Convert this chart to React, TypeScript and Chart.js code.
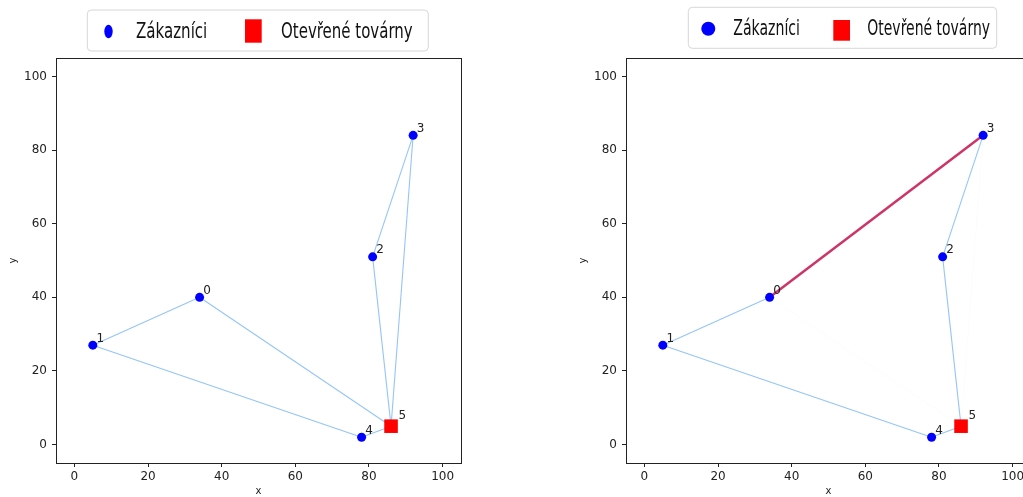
import React, { useEffect, useRef } from 'react';
import { Chart, registerables } from 'chart.js';

Chart.register(...registerables);

// ---- data ----
const customerIds = [0, 1, 2, 3, 4];
const customerX = [34, 5, 81, 92, 78];
const customerY = [40, 27, 51, 84, 2];
const factoryIds = [5];
const factoryX = [86];
const factoryY = [5];
const axisTicks = [0, 20, 40, 60, 80, 100];
const axisMin = -5;
const axisMax = 105;
const edgesLeft = [[0, 1], [0, 5], [1, 4], [4, 5], [5, 2], [2, 3], [3, 5]];
const edgesRight = [[0, 1], [1, 4], [4, 5], [5, 2], [2, 3]];
const highlightRight = [[0, 3]];
const fadedRight = [[3, 5], [0, 5]];
const legendLabels = ['Zákazníci', 'Otevřené továrny'];
const axisTitles = ['x', 'y'];

const allIds = [...customerIds, ...factoryIds];
const allX = [...customerX, ...factoryX];
const allY = [...customerY, ...factoryY];
const node = (id: number) => {
  const i = allIds.indexOf(id);
  return { x: allX[i], y: allY[i] };
};

type LegendLayout = {
  box: { x: number; y: number; w: number; h: number };
  circle: { cx: number; cy: number; rx: number; ry: number };
  text1: { x: number; base: number; w: number };
  square: { x: number; y: number; w: number; h: number };
  text2: { x: number; base: number; w: number };
  fontSize: number;
};

const leftLegend: LegendLayout = {
  box: { x: 87.3, y: 10, w: 341, h: 41 },
  circle: { cx: 108.5, cy: 31.5, rx: 4.2, ry: 6.7 },
  text1: { x: 136, base: 37.5, w: 71.3 },
  square: { x: 245, y: 19.3, w: 16.7, h: 23.4 },
  text2: { x: 281, base: 37.5, w: 131.7 },
  fontSize: 21,
};

const rightLegend: LegendLayout = {
  box: { x: 118.3, y: 7.3, w: 308.4, h: 41 },
  circle: { cx: 138.3, cy: 28.7, rx: 7, ry: 7 },
  text1: { x: 163.3, base: 35, w: 66.7 },
  square: { x: 263.3, y: 20, w: 16.7, h: 20.7 },
  text2: { x: 297.3, base: 35, w: 122.7 },
  fontSize: 21,
};

const FONT = '"DejaVu Sans", sans-serif';

function edgeDataset(e: number[], color: string, width: number, order: number) {
  const a = node(e[0]);
  const b = node(e[1]);
  return {
    label: '_edge',
    data: [a, b],
    showLine: true,
    borderColor: color,
    borderWidth: width,
    pointRadius: 0,
    pointHoverRadius: 0,
    order,
  };
}

function buildConfig(edges: number[][], highlight: number[][], faded: number[][], legend: LegendLayout): any {
  const datasets: any[] = [];
  faded.forEach((e) => datasets.push(edgeDataset(e, 'rgba(160,205,248,0.05)', 1, 40)));
  edges.forEach((e) => datasets.push(edgeDataset(e, '#95c5f6', 1.1, 30)));
  highlight.forEach((e) => datasets.push(edgeDataset(e, '#cd3468', 2.5, 20)));
  datasets.push({
    label: legendLabels[0],
    data: customerX.map((x, i) => ({ x, y: customerY[i] })),
    pointStyle: 'circle',
    pointRadius: 4.5,
    pointBackgroundColor: '#0000ff',
    pointBorderWidth: 0,
    order: 5,
  });
  datasets.push({
    label: legendLabels[1],
    data: factoryX.map((x, i) => ({ x, y: factoryY[i] })),
    pointStyle: 'rect',
    pointRadius: 9.6,
    pointBackgroundColor: '#ff0000',
    pointBorderWidth: 0,
    order: 4,
  });

  const labelPlugin = {
    id: 'pointLabels',
    afterDatasetsDraw(chart: any) {
      const { ctx, scales } = chart;
      ctx.save();
      ctx.font = `12px ${FONT}`;
      ctx.fillStyle = '#222';
      ctx.textAlign = 'left';
      ctx.textBaseline = 'alphabetic';
      customerIds.forEach((id, i) => {
        ctx.fillText(String(id), scales.x.getPixelForValue(customerX[i] + 1), scales.y.getPixelForValue(customerY[i] + 1));
      });
      factoryIds.forEach((id, i) => {
        ctx.fillText(String(id), scales.x.getPixelForValue(factoryX[i] + 2), scales.y.getPixelForValue(factoryY[i] + 2));
      });
      ctx.restore();
    },
  };

  const framePlugin = {
    id: 'frame',
    afterDraw(chart: any) {
      const { ctx, chartArea } = chart;
      ctx.save();
      ctx.strokeStyle = '#222';
      ctx.lineWidth = 1;
      ctx.strokeRect(chartArea.left + 0.5, chartArea.top + 0.5, chartArea.right - chartArea.left, chartArea.bottom - chartArea.top);
      ctx.restore();
    },
  };

  const legendPlugin = {
    id: 'mplLegend',
    afterDraw(chart: any) {
      const { ctx } = chart;
      const L = legend;
      ctx.save();
      const r = 4;
      const { x, y, w, h } = L.box;
      ctx.beginPath();
      ctx.moveTo(x + r, y);
      ctx.arcTo(x + w, y, x + w, y + h, r);
      ctx.arcTo(x + w, y + h, x, y + h, r);
      ctx.arcTo(x, y + h, x, y, r);
      ctx.arcTo(x, y, x + w, y, r);
      ctx.closePath();
      ctx.fillStyle = 'rgba(255,255,255,0.85)';
      ctx.fill();
      ctx.strokeStyle = '#d6d6d6';
      ctx.lineWidth = 1;
      ctx.stroke();
      const ds = chart.data.datasets.filter((d: any) => d.label && d.label !== '_edge');
      ctx.fillStyle = ds[0].pointBackgroundColor;
      ctx.beginPath();
      ctx.ellipse(L.circle.cx, L.circle.cy, L.circle.rx, L.circle.ry, 0, 0, Math.PI * 2);
      ctx.fill();
      ctx.fillStyle = ds[1].pointBackgroundColor;
      ctx.fillRect(L.square.x, L.square.y, L.square.w, L.square.h);
      ctx.fillStyle = '#111';
      ctx.font = `${L.fontSize}px ${FONT}`;
      ctx.textAlign = 'left';
      ctx.textBaseline = 'alphabetic';
      const drawText = (t: string, pos: { x: number; base: number; w: number }) => {
        const m = ctx.measureText(t).width;
        ctx.save();
        ctx.translate(pos.x, pos.base);
        ctx.scale(pos.w / m, 1);
        ctx.fillText(t, 0, 0);
        ctx.restore();
      };
      drawText(ds[0].label, L.text1);
      drawText(ds[1].label, L.text2);
      ctx.restore();
    },
  };

  const tickFont = { family: FONT, size: 12 };
  const scaleBase = (title: string, titlePadding: any) => ({
    type: 'linear',
    min: axisMin,
    max: axisMax,
    afterBuildTicks: (scale: any) => {
      scale.ticks = axisTicks.map((v) => ({ value: v }));
    },
    grid: {
      display: true,
      drawOnChartArea: false,
      drawTicks: true,
      tickLength: 4,
      color: '#222',
      tickColor: '#222',
    },
    border: { display: true, color: '#222', width: 1 },
    ticks: { font: tickFont, color: '#222', maxRotation: 0, autoSkip: false },
    title: { display: true, text: title, font: { family: FONT, size: 10 }, color: '#222', padding: titlePadding },
  });

  const xScale: any = scaleBase(axisTitles[0], { top: 0, bottom: 0 });
  xScale.position = 'bottom';
  xScale.ticks.padding = 3;
  xScale.afterFit = (s: any) => {
    s.height = 34;
  };
  const yScale: any = scaleBase(axisTitles[1], { top: 7, bottom: 0 });
  yScale.position = 'left';
  yScale.ticks.padding = 5;
  yScale.afterFit = (s: any) => {
    s.width = 56;
  };

  return {
    type: 'scatter',
    data: { datasets },
    options: {
      responsive: false,
      animation: false,
      devicePixelRatio: 1,
      layout: { padding: { left: 0, right: 51, top: 58, bottom: 0 } },
      plugins: { legend: { display: false }, tooltip: { enabled: false }, title: { display: false } },
      events: [],
      scales: { x: xScale, y: yScale },
    },
    plugins: [labelPlugin, framePlugin, legendPlugin],
  };
}

function Panel({ left, config }: { left: number; config: () => any }) {
  const ref = useRef<HTMLCanvasElement | null>(null);
  useEffect(() => {
    if (!ref.current) return;
    const chart = new Chart(ref.current, config());
    return () => chart.destroy();
  }, []);
  return (
    <canvas
      ref={ref}
      width={512}
      height={497}
      style={{ position: 'absolute', left, top: 0, width: 512, height: 497 }}
    />
  );
}

export default function App() {
  return (
    <div
      style={{
        position: 'fixed',
        left: 0,
        top: 0,
        width: 1023,
        height: 497,
        overflow: 'hidden',
        background: '#ffffff',
      }}
    >
      <Panel left={0} config={() => buildConfig(edgesLeft, [], [], leftLegend)} />
      <Panel left={570} config={() => buildConfig(edgesRight, highlightRight, fadedRight, rightLegend)} />
    </div>
  );
}
